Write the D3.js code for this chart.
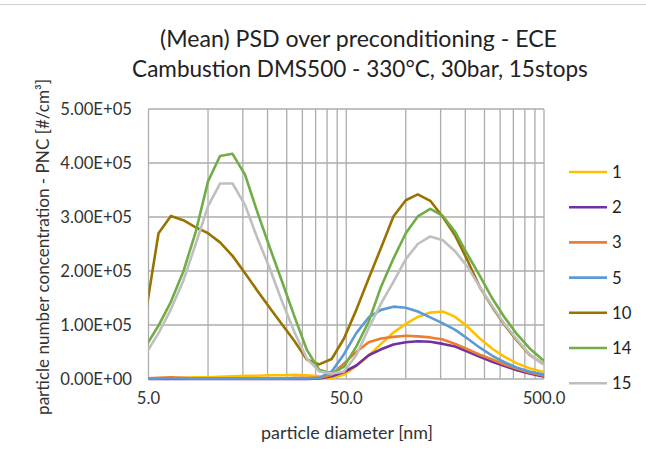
<!DOCTYPE html>
<html>
<head>
<meta charset="utf-8">
<script src="https://cdn.jsdelivr.net/npm/d3@7"></script>
<style>
  body { margin: 0; background: #fff; }
  svg { display: block; font-family: Lato, "Open Sans", sans-serif; }
</style>
</head>
<body>
<div id="chart"></div>
<script>
// DMS500 bin diameters [nm]
const diameters = [4.87, 5.62, 6.49, 7.5, 8.66, 10.0, 11.5, 13.3, 15.4, 17.8, 20.5, 23.7,
  27.4, 31.6, 36.5, 42.2, 48.7, 56.2, 64.9, 75.0, 86.6, 100, 115, 133, 154, 178, 205,
  237, 274, 316, 365, 422, 487, 562];

// PNC values in thousands of #/cm³, one list per stop
const stop1 = [1, 1, 1, 2, 3, 3, 4, 5, 6, 6, 7, 7, 8, 7, 5, 2, 8, 24, 43, 65, 86, 102, 115,
  123, 125, 115, 97, 75, 56, 41, 29, 20, 14, 9];
const stop2 = [0, 0, 0, 0, 0, 0, 0, 0, 0, 0, 0, 0, 0, 0, 1, 5, 13, 25, 44, 55, 64, 68, 70,
  69, 65, 60, 51, 41, 32, 24, 16, 10, 5, 3];
const stop3 = [1, 2, 3, 2, 1, 1, 1, 1, 1, 1, 1, 1, 2, 2, 2, 8, 29, 50, 68, 75, 78, 80, 79,
  77, 73, 65, 55, 45, 36, 27, 19, 12, 7, 4];
const stop5 = [1, 1, 1, 1, 1, 1, 1, 1, 1, 1, 1, 1, 1, 1, 2, 14, 46, 85, 114, 128, 134, 132,
  125, 114, 103, 91, 75, 58, 43, 31, 21, 14, 9, 5];
const stop10 = [128, 270, 302, 294, 281, 270, 253, 228, 196, 163, 132, 101, 70, 36, 27, 37,
  75, 128, 186, 243, 301, 331, 342, 330, 300, 265, 220, 170, 133, 100, 71, 45, 30, 18];
const stop14 = [62, 99, 143, 199, 272, 366, 413, 417, 378, 308, 244, 180, 115, 54, 17, 10,
  23, 60, 106, 171, 223, 270, 301, 315, 302, 272, 231, 191, 149, 114, 83, 57, 37, 22];
const stop15 = [48, 85, 129, 182, 250, 320, 362, 362, 322, 260, 205, 143, 86, 38, 14, 10,
  14, 44, 94, 140, 180, 222, 250, 264, 257, 236, 208, 170, 135, 102, 73, 46, 29, 17];

const seriesNames = ["1", "2", "3", "5", "10", "14", "15"];
const seriesValues = [stop1, stop2, stop3, stop5, stop10, stop14, stop15];
const seriesColors = ["#FFC000", "#7030A0", "#ED7D31", "#5B9BD5", "#997300", "#70AD47", "#BFBFBF"];

const xMajorTicks = [5, 50, 500];
const xMinorTicks = [10, 15, 20, 25, 30, 35, 40, 45, 100, 150, 200, 250, 300, 350, 400, 450];
const yTicks = [0, 100000, 200000, 300000, 400000, 500000];

const titleLines = ["(Mean) PSD over preconditioning - ECE", "Cambustion DMS500 - 330°C, 30bar, 15stops"];
const xTitle = "particle diameter [nm]";
const yTitle = "particle number concentration - PNC [#/cm³]";

const width = 646, height = 463;
const plot = { left: 148.5, right: 544, top: 109, bottom: 379 };

const svg = d3.select("#chart")
  .append("svg")
  .attr("width", width)
  .attr("height", height);

// scale a text's font so it spans the given width
function fitWidth(sel, target) {
  const size = parseFloat(sel.style("font-size"));
  const w = sel.node().getComputedTextLength();
  sel.style("font-size", (size * target / w).toFixed(2) + "px");
}

svg.append("line")
  .attr("x1", 0).attr("x2", width)
  .attr("y1", 4.5).attr("y2", 4.5)
  .attr("stroke", "#d0d0d0")
  .attr("stroke-width", 1);

const x = d3.scaleLog().domain([5, 500]).range([plot.left, plot.right]);
const y = d3.scaleLinear().domain([0, 500000]).range([plot.bottom, plot.top]);

const grid = svg.append("g").attr("stroke", "#acacac").attr("stroke-width", 1.3);

grid.selectAll(".vgrid")
  .data(xMajorTicks.concat(xMinorTicks))
  .join("line")
  .attr("x1", (d) => x(d)).attr("x2", (d) => x(d))
  .attr("y1", plot.top).attr("y2", plot.bottom);

grid.selectAll(".hgrid")
  .data(yTicks)
  .join("line")
  .attr("x1", plot.left).attr("x2", plot.right)
  .attr("y1", (d) => y(d)).attr("y2", (d) => y(d));

svg.append("clipPath")
  .attr("id", "plot-clip")
  .append("rect")
  .attr("x", plot.left).attr("y", plot.top - 5)
  .attr("width", plot.right - plot.left)
  .attr("height", plot.bottom - plot.top + 10);

const line = d3.line()
  .x((d) => x(d[0]))
  .y((d) => y(d[1] * 1000));

svg.append("g")
  .attr("clip-path", "url(#plot-clip)")
  .selectAll("path")
  .data(seriesValues)
  .join("path")
  .attr("d", (vals) => line(vals.map((v, i) => [diameters[i], v])))
  .attr("fill", "none")
  .attr("stroke", (d, i) => seriesColors[i])
  .attr("stroke-width", 2.6)
  .attr("stroke-linejoin", "round");

// axes labels
const fmtY = (v) => {
  const [m, e] = v.toExponential(2).toUpperCase().split("E");
  const n = Math.abs(+e);
  return `${m}E${+e < 0 ? "-" : "+"}${n < 10 ? "0" + n : n}`;
};

svg.append("g")
  .selectAll("text")
  .data(yTicks)
  .join("text")
  .attr("x", 132)
  .attr("y", (d) => y(d))
  .attr("dy", "0.36em")
  .attr("text-anchor", "end")
  .style("font-size", "16.7px")
  .attr("fill", "#333")
  .text(fmtY);

svg.append("g")
  .selectAll("text")
  .data(xMajorTicks)
  .join("text")
  .attr("x", (d) => x(d))
  .attr("y", 404)
  .attr("text-anchor", "middle")
  .style("font-size", "16.7px")
  .attr("fill", "#333")
  .text((d) => d.toFixed(1));

const xLabel = svg.append("text")
  .attr("x", 347)
  .attr("y", 439)
  .attr("text-anchor", "middle")
  .style("font-size", "16px")
  .attr("fill", "#333")
  .text(xTitle);
fitWidth(xLabel, 172);

const yLabel = svg.append("text")
  .attr("transform", "translate(49,247) rotate(-90)")
  .attr("text-anchor", "middle")
  .style("font-size", "16px")
  .attr("fill", "#333")
  .text(yTitle);
fitWidth(yLabel, 336);

const titles = svg.append("g")
  .selectAll("text")
  .data(titleLines)
  .join("text")
  .attr("x", (d, i) => (i === 0 ? 358.5 : 360))
  .attr("y", (d, i) => (i === 0 ? 47 : 77))
  .attr("text-anchor", "middle")
  .style("font-size", "21px")
  .attr("fill", "#222")
  .text((d) => d);
fitWidth(titles.filter((d, i) => i === 0), 397);
fitWidth(titles.filter((d, i) => i === 1), 456);

// legend
const legend = svg.append("g")
  .selectAll("g")
  .data(seriesNames)
  .join("g")
  .attr("transform", (d, i) => `translate(569,${172 + i * 35.2})`);

legend.append("line")
  .attr("x1", 0).attr("x2", 38)
  .attr("stroke", (d, i) => seriesColors[i])
  .attr("stroke-width", 2.6);

legend.append("text")
  .attr("x", 43)
  .attr("dy", "0.36em")
  .style("font-size", "16.7px")
  .attr("fill", "#222")
  .text((d) => d);
</script>
</body>
</html>
